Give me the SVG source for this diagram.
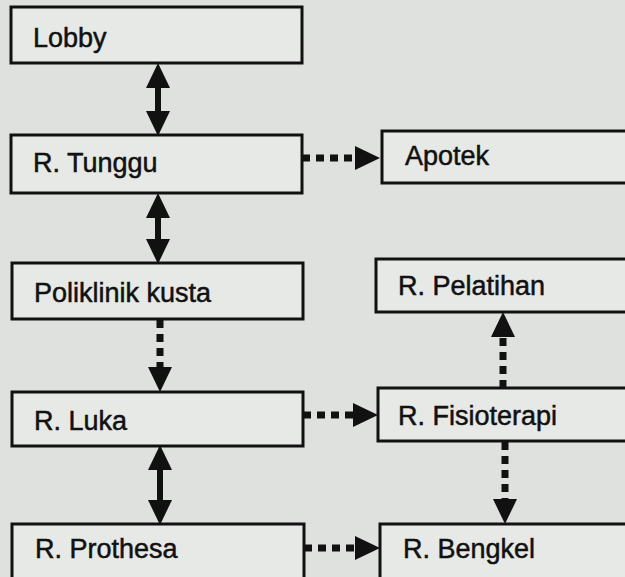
<svg xmlns="http://www.w3.org/2000/svg" width="625" height="577" viewBox="0 0 625 577">
  <style>
    .box { fill: #e7e9e7; stroke: #111; stroke-width: 3; }
    .lbl { font-family: "Liberation Sans", Arial, sans-serif; font-size: 27px; fill: #111; stroke: #111; stroke-width: 0.5; }
    .solid { stroke: #111; stroke-width: 6; fill: none; }
    .dot { stroke: #111; stroke-width: 7; fill: none; stroke-dasharray: 8 6; }
  </style>
  <defs>
    <marker id="head" markerUnits="userSpaceOnUse" markerWidth="26" markerHeight="26" refX="0" refY="12" orient="auto-start-reverse" viewBox="0 0 26 26">
      <path d="M0,0 L25,12 L0,24 Z" fill="#111"/>
    </marker>
  </defs>
  <rect width="625" height="577" fill="#dfe1df"/>

  <g id="lobby"><rect class="box" x="11" y="7" width="291" height="56"/><text class="lbl" x="33" y="47">Lobby</text></g>
  <g id="tunggu"><rect class="box" x="11" y="135" width="291" height="58"/><text class="lbl" x="33" y="172">R. Tunggu</text></g>
  <g id="apotek"><rect class="box" x="382" y="131" width="260" height="52"/><text class="lbl" x="405" y="165">Apotek</text></g>
  <g id="poliklinik"><rect class="box" x="12" y="263" width="291" height="56"/><text class="lbl" x="34" y="302">Poliklinik kusta</text></g>
  <g id="pelatihan"><rect class="box" x="376" y="259" width="266" height="53"/><text class="lbl" x="398" y="295">R. Pelatihan</text></g>
  <g id="luka"><rect class="box" x="12" y="392" width="291" height="54"/><text class="lbl" x="34" y="430">R. Luka</text></g>
  <g id="fisioterapi"><rect class="box" x="378" y="388" width="264" height="53"/><text class="lbl" x="398" y="425">R. Fisioterapi</text></g>
  <g id="prothesa"><rect class="box" x="12" y="524" width="292" height="70"/><text class="lbl" x="35" y="558">R. Prothesa</text></g>
  <g id="bengkel"><rect class="box" x="380" y="524" width="262" height="70"/><text class="lbl" x="403" y="558">R. Bengkel</text></g>

  <g id="connectors">
    <line class="solid" x1="158" y1="88" x2="158" y2="111" marker-start="url(#head)" marker-end="url(#head)"/>
    <line class="dot" x1="302" y1="158" x2="355" y2="158" marker-end="url(#head)"/>
    <line class="solid" x1="158" y1="218" x2="158" y2="239" marker-start="url(#head)" marker-end="url(#head)"/>
    <line class="dot" x1="160" y1="320" x2="160" y2="367" marker-end="url(#head)"/>
    <line class="solid" x1="160" y1="470" x2="160" y2="500" marker-start="url(#head)" marker-end="url(#head)"/>
    <line class="dot" x1="303" y1="415" x2="353" y2="415" marker-end="url(#head)"/>
    <line class="dot" x1="503" y1="388" x2="503" y2="337" marker-end="url(#head)"/>
    <line class="dot" x1="505" y1="442" x2="505" y2="499" marker-end="url(#head)"/>
    <line class="dot" x1="304" y1="548" x2="355" y2="548" marker-end="url(#head)"/>
  </g>
</svg>
